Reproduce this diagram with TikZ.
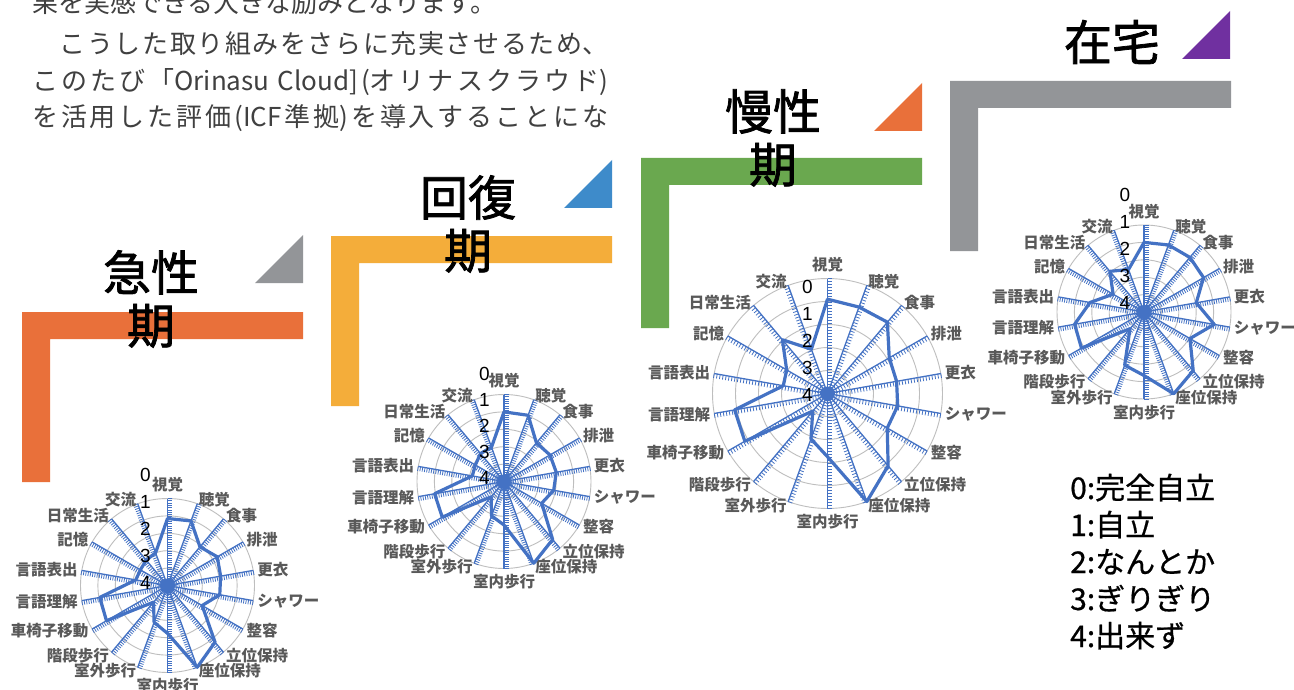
\documentclass[tikz,border=0pt]{standalone}
\usepackage{fontspec}
\setmainfont{Noto Sans CJK JP}
\newfontfamily\numfont{Liberation Sans}
\newfontfamily\headfont[FakeBold=1.6]{Noto Sans CJK JP}
\newfontfamily\legendfont[FakeBold=0.6]{Noto Sans CJK JP}
\XeTeXlinebreaklocale "ja"
\XeTeXlinebreakskip=0pt plus 4pt

\definecolor{chartblue}{RGB}{68,114,196}
\definecolor{ringgray}{RGB}{190,190,190}
\definecolor{labelgray}{RGB}{89,89,89}
\definecolor{bodygray}{RGB}{64,64,64}
\definecolor{stepred}{RGB}{233,112,58}
\definecolor{stepyellow}{RGB}{244,173,58}
\definecolor{stepgreen}{RGB}{106,168,79}
\definecolor{stepgray}{RGB}{147,149,152}
\definecolor{stepblue}{RGB}{62,139,202}
\definecolor{steppurple}{RGB}{112,48,160}

\tikzset{
  ringline/.style={ringgray, line width=0.9pt},
  axisline/.style={chartblue, line width=1.3pt},
  tickline/.style={chartblue, line width=0.8pt},
  datapoly/.style={chartblue, line width=3.2pt, line join=round},
  catlabel/.style={labelgray, inner sep=0pt, font=\fontsize{15.5}{15.5}\selectfont\bfseries},
  scalenum/.style={inner sep=0pt, font=\numfont\fontsize{19}{19}\selectfont},
  heading/.style={inner sep=0pt, align=center, font=\headfont\fontsize{48}{53}\selectfont},
  bodytext/.style={bodygray, inner sep=0pt, font=\fontsize{26}{37}\selectfont},
  legendtext/.style={inner sep=0pt, font=\legendfont\fontsize{30}{37}\selectfont}
}

% #1 name, #2/#3 centre, #4 radius, #5 x of the scale, #6 top of the scale, #7 its step, #8 values
\newcommand\radarchart[8]{%
  \begin{scope}[shift={(#2,#3)}, yscale=-1]
    \foreach \q in {1,...,5}
      \draw[ringline] (0,0) circle ({\q*#4/5});
    \foreach \lab [count=\i from 0] in {視覚,聴覚,食事,排泄,更衣,シャワー,整容,立位保持,座位保持,室内歩行,室外歩行,階段歩行,車椅子移動,言語理解,言語表出,記憶,日常生活,交流}{
      \pgfmathsetmacro\ang{90-20*\i}
      \ifnum\i<9 \def\tk{\ang-90}\else \def\tk{\ang+90}\fi
      \ifnum\i=0 \def\anc{south}\def\gap{6}\else
        \ifnum\i<9 \def\anc{west}\def\gap{4}\else
          \ifnum\i=9 \def\anc{north}\def\gap{6}\else \def\anc{east}\def\gap{4}\fi\fi\fi
      \draw[axisline] (0,0) -- (\ang:#4);
      \foreach \m in {1,...,38}
        \draw[tickline] (\ang:{\m*#4/38}) -- ++({\tk}:4.5);
      \node[catlabel, anchor=\anc] (#1-l\i) at (\ang:{#4+\gap}) {\lab};
    }
    \fill[chartblue] (0,0) circle (7);
    \foreach \val [count=\i from 0] in {#8}
      \coordinate (#1-p\i) at ({90-20*\i}:{\val*#4});
    \draw[datapoly] (#1-p0) \foreach \i in {1,...,17}{ -- (#1-p\i)} -- cycle;
    \foreach \n in {0,...,4}
      \node[scalenum] (#1-n\n) at (#5,{#6-#7*\n}) {\n};
  \end{scope}}

\begin{document}
\begin{tikzpicture}[x=1pt, y=-1pt]
  \path[use as bounding box, fill=white] (0,0) rectangle (1294,690);

  % running text of the page
  \node[bodytext, anchor=base west] (line0) at (32,13) {果を実感できる大きな励みとなります。};
  \node[bodytext, anchor=base west] (line1) at (32,53.5) {\parbox[b]{576pt}{\parfillskip=0pt 　こうした取り組みをさらに充実させるため、}};
  \node[bodytext, anchor=base west] (line2) at (32,90.5) {\parbox[b]{576pt}{\parfillskip=0pt このたび「Orinasu Cloud](オリナスクラウド)}};
  \node[bodytext, anchor=base west] (line3) at (32,127) {\parbox[b]{576pt}{\parfillskip=0pt を活用した評価(ICF準拠)を導入することにな}};

  % steps
  \foreach \x/\y/\c in {22/312/stepred, 331/236/stepyellow, 641/158/stepgreen, 950/81/stepgray}
    \fill[\c] (\x,\y+170) |- (\x+281,\y) -- (\x+281,\y+27) -| (\x+28,\y+170) -- cycle;
  \foreach \xr/\yb/\c in {303/283/stepgray, 612/208/stepblue, 922/131/stepred, 1230/59/steppurple}
    \fill[\c] (\xr-48,\yb) -- (\xr,\yb) -- (\xr,\yb-48) -- cycle;

  \node[heading] (acute) at (151,299) {急性\\期};
  \node[heading] (recovery) at (468,224) {回復\\期};
  \node[heading] (chronic) at (773,138) {慢性\\期};
  \node[heading] (home) at (1112,42) {在宅};

  \radarchart{acute}{167.5}{585.5}{87}{-22}{110.5}{27}{.77,.79,.58,.66,.62,.61,.46,.85,1,.55,.45,.25,.81,.79,.37,.36,.38,.40}
  \radarchart{recov}{504}{481.5}{87}{-19.5}{108}{26}{.80,.81,.58,.61,.61,.58,.50,.87,1,.50,.42,.23,.82,.81,.37,.38,.42,.42}
  \radarchart{chron}{827.5}{393.5}{115}{-20}{107}{27}{.82,.80,.81,.62,.61,.62,.60,.82,1,.55,.42,.20,.83,.82,.39,.41,.61,.41}
  \radarchart{home}{1144}{312}{87}{-19}{117}{27}{.80,.82,.82,.79,.61,.82,.61,.88,1,.73,.65,.25,.83,.81,.63,.41,.61,.52}

  % legend
  \foreach \t [count=\i from 0] in {完全自立,自立,なんとか,ぎりぎり,出来ず}
    \node[legendtext, anchor=base west] (leg\i) at (1070,{499+37*\i}) {\i:\t};
\end{tikzpicture}
\end{document}
